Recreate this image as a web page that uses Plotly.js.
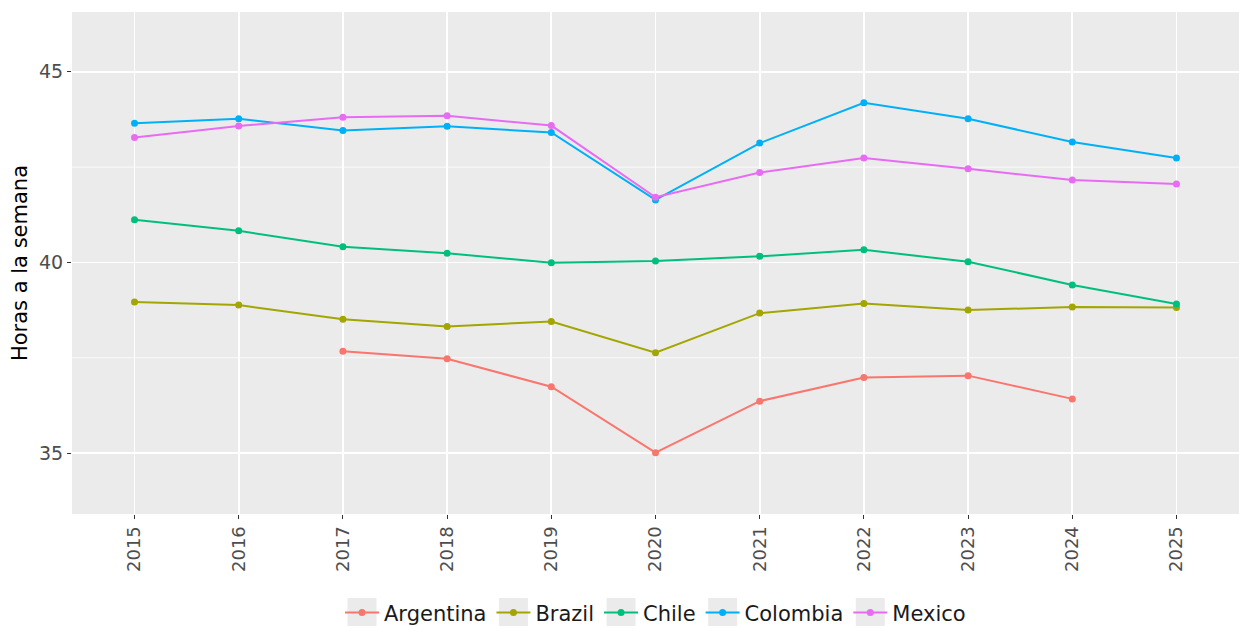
<!DOCTYPE html>
<html>
<head>
<meta charset="utf-8">
<script src="https://cdn.plot.ly/plotly-3.0.1.min.js"></script>
<style>html,body{margin:0;padding:0;background:#fff;}#chart{width:1239px;height:626px;}</style>
</head>
<body>
<div id="chart"></div>
<script>
const years = [2015, 2016, 2017, 2018, 2019, 2020, 2021, 2022, 2023, 2024, 2025];
const argentinaYears = [2017, 2018, 2019, 2020, 2021, 2022, 2023, 2024];
const argentina = [37.67, 37.47, 36.74, 35.01, 36.36, 36.98, 37.03, 36.42];
const brazil = [38.96, 38.88, 38.51, 38.32, 38.45, 37.63, 38.67, 38.92, 38.75, 38.83, 38.82];
const chile = [41.12, 40.83, 40.41, 40.24, 39.99, 40.04, 40.16, 40.33, 40.02, 39.41, 38.91];
const colombia = [43.65, 43.77, 43.46, 43.57, 43.41, 41.64, 43.13, 44.19, 43.77, 43.16, 42.74];
const mexico = [43.28, 43.58, 43.81, 43.85, 43.59, 41.71, 42.36, 42.74, 42.46, 42.16, 42.06];
const seriesNames = ['Argentina', 'Brazil', 'Chile', 'Colombia', 'Mexico'];
const seriesColors = ['#F8766D', '#A3A500', '#00BF7D', '#00B0F6', '#E76BF3'];
const yTicks = [35, 40, 45];

const seriesX = [argentinaYears, years, years, years, years];
const seriesY = [argentina, brazil, chile, colombia, mexico];

const traces = seriesNames.map((name, i) => ({
  type: 'scatter',
  mode: 'lines+markers',
  name: name,
  x: seriesX[i],
  y: seriesY[i],
  line: {color: seriesColors[i], width: 2},
  marker: {color: seriesColors[i], size: 7}
}));

const minorVals = [32.5, 37.5, 42.5];
const shapes = minorVals.map(v => ({
  type: 'line', xref: 'paper', x0: 0, x1: 1, yref: 'y', y0: v, y1: v,
  line: {color: '#ffffff', width: 0.8}, layer: 'below'
}));

const M = {l: 72, r: 0, t: 12, b: 112};
const W = 1239, H = 626;

const layout = {
  width: W, height: H,
  margin: Object.assign({autoexpand: false}, M),
  paper_bgcolor: '#ffffff',
  plot_bgcolor: '#EBEBEB',
  font: {family: 'DejaVu Sans, sans-serif', color: '#4D4D4D'},
  showlegend: true,
  legend: {
    orientation: 'h', x: 0.5, xanchor: 'center', y: -0.197, yanchor: 'middle',
    font: {size: 21, color: '#1a1a1a'}, bgcolor: 'rgba(0,0,0,0)', itemwidth: 34
  },
  xaxis: {
    range: [2014.4, 2025.6],
    automargin: false,
    tickmode: 'array', tickvals: years, ticktext: years.map(String),
    tickangle: -90,
    tickfont: {size: 18, color: '#4D4D4D'},
    ticks: 'outside', ticklen: 4, tickcolor: '#333333', tickwidth: 1,
    showgrid: true, gridcolor: '#ffffff', gridwidth: 1.6,
    zeroline: false, showline: false
  },
  yaxis: {
    range: [33.4, 46.57],
    automargin: false,
    tickmode: 'array', tickvals: yTicks, ticktext: yTicks.map(String),
    tickfont: {size: 19, color: '#4D4D4D'},
    ticks: 'outside', ticklen: 4, tickcolor: '#333333', tickwidth: 1,
    showgrid: true, gridcolor: '#ffffff', gridwidth: 1.6,
    zeroline: false, showline: false,
    title: {text: 'Horas a la semana', font: {size: 21, color: '#000000'}, standoff: 5}
  },
  shapes: shapes
};

Plotly.newPlot('chart', traces, layout, {displayModeBar: false, staticPlot: true}).then(gd => {
  // grey key backgrounds behind legend symbols (ggplot legend.key)
  const root = gd.getBoundingClientRect();
  const pw = W - M.l - M.r, ph = H - M.t - M.b;
  const extra = [];
  gd.querySelectorAll('.legend .traces').forEach(tr => {
    const sym = tr.querySelector('.legendpoints');
    if (!sym) return;
    const b = sym.getBoundingClientRect();
    const cx = (b.left + b.right) / 2 - root.left;
    const cy = (b.top + b.bottom) / 2 - root.top;
    const half = 14.5;
    extra.push({
      type: 'rect', xref: 'paper', yref: 'paper',
      x0: (cx - half - M.l) / pw, x1: (cx + half - M.l) / pw,
      y0: (H - M.b - (cy + half)) / ph, y1: (H - M.b - (cy - half)) / ph,
      fillcolor: '#EBEBEB', line: {width: 0}, layer: 'above'
    });
  });
  return Plotly.relayout(gd, {shapes: shapes.concat(extra)});
});
</script>
</body>
</html>
